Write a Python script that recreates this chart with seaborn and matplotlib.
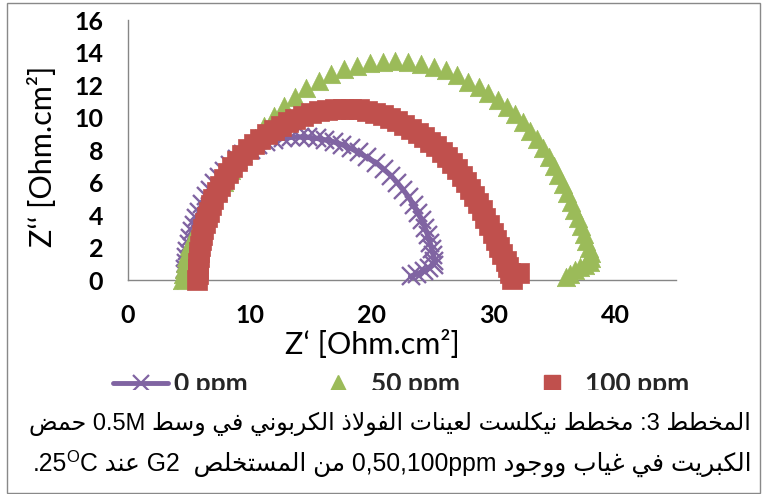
import matplotlib
matplotlib.use("Agg")
import matplotlib.pyplot as plt
from matplotlib.lines import Line2D
from matplotlib.patches import Rectangle
import seaborn as sns

# ---------------- data: Nyquist curves (Z', -Z'') in Ohm.cm2 ----------------
series_labels = ["0 ppm", "50 ppm", "100 ppm"]

z0_re = [4.75, 4.72, 4.72, 4.75, 4.80, 4.88, 4.98, 5.10, 5.25, 5.42, 5.62, 5.85,
         6.10, 6.40, 6.72, 7.08, 7.48, 7.92, 8.40, 8.92, 9.48, 10.08, 10.70, 11.35,
         12.00, 12.70, 13.40, 14.10, 14.80, 15.50, 16.20, 16.90, 17.60, 18.30, 18.95,
         19.60, 20.40, 21.00, 21.60, 22.10, 22.60, 23.05, 23.45, 23.80, 24.12, 24.40,
         24.62, 24.80, 24.95, 25.08, 25.15, 25.10, 24.75, 24.30, 23.75, 23.20]
z0_im = [0.00, 0.35, 0.70, 1.05, 1.40, 1.80, 2.20, 2.60, 3.00, 3.40, 3.80, 4.20,
         4.70, 5.15, 5.55, 5.95, 6.35, 6.72, 7.08, 7.42, 7.75, 8.02, 8.28, 8.48,
         8.62, 8.72, 8.78, 8.80, 8.78, 8.72, 8.62, 8.50, 8.33, 8.10, 7.85,
         7.55, 7.20, 6.82, 6.42, 6.00, 5.55, 5.10, 4.62, 4.15, 3.68, 3.20,
         2.75, 2.30, 1.90, 1.52, 1.20, 0.95, 0.75, 0.55, 0.38, 0.22]

z50_re = [4.45, 4.50, 4.57, 4.66, 4.77, 4.90, 5.05, 5.22, 5.42, 5.65, 5.90, 6.20,
          6.55, 6.95, 7.40, 7.90, 8.45, 9.05, 9.70, 10.40, 11.15, 11.95, 12.80, 13.70,
          14.65, 15.65, 16.70, 17.75, 18.80, 19.85, 20.90, 21.95, 23.00, 24.05, 25.10,
          26.10, 27.00, 27.90, 28.80, 29.60, 30.40, 31.10, 31.80, 32.45, 33.05, 33.60,
          34.10, 34.55, 34.95, 35.35, 35.70, 36.05, 36.35, 36.65, 36.95, 37.20, 37.45,
          37.65, 37.85, 38.00, 38.05, 37.95, 37.55, 37.10, 36.70, 36.30, 35.95]
z50_im = [0.00, 0.35, 0.70, 1.05, 1.40, 1.75, 2.10, 2.45, 2.80, 3.20, 3.60, 4.05,
          4.50, 5.00, 5.50, 6.05, 6.75, 7.45, 8.10, 8.75, 9.45, 10.10, 10.70, 11.25,
          11.80, 12.25, 12.65, 12.98, 13.20, 13.35, 13.43, 13.45, 13.40, 13.30, 13.12,
          12.90, 12.60, 12.20, 11.90, 11.50, 11.05, 10.65, 10.20, 9.70, 9.20, 8.65,
          8.10, 7.55, 7.00, 6.45, 5.90, 5.35, 4.80, 4.30, 3.80, 3.30, 2.85,
          2.40, 2.00, 1.65, 1.35, 1.10, 0.95, 0.80, 0.60, 0.40, 0.20]

z100_re = [5.70, 5.72, 5.75, 5.78, 5.82, 5.87, 5.93, 6.00, 6.08, 6.18, 6.30, 6.45,
           6.62, 6.80, 7.02, 7.27, 7.55, 7.85, 8.18, 8.55, 8.95, 9.40, 9.85, 10.35,
           10.85, 11.40, 11.95, 12.55, 13.15, 13.75, 14.40, 15.05, 15.70, 16.35, 17.00,
           17.65, 18.30, 18.95, 19.60, 20.25, 20.90, 21.50, 22.10, 22.70, 23.25, 23.80,
           24.30, 24.80, 25.30, 25.75, 26.20, 26.60, 27.00, 27.40, 27.75, 28.10, 28.45,
           28.75, 29.05, 29.35, 29.65, 29.95, 30.25, 30.50, 30.75, 31.00, 31.20, 31.40,
           31.55, 32.10]
z100_im = [0.00, 0.35, 0.70, 1.05, 1.40, 1.75, 2.10, 2.45, 2.80, 3.15, 3.50, 3.85,
           4.20, 4.60, 5.00, 5.40, 5.80, 6.20, 6.60, 6.95, 7.30, 7.70, 8.05, 8.40,
           8.70, 9.00, 9.25, 9.50, 9.72, 9.92, 10.10, 10.25, 10.37, 10.46, 10.52,
           10.55, 10.55, 10.50, 10.42, 10.30, 10.15, 9.98, 9.78, 9.55, 9.32, 9.07,
           8.80, 8.52, 8.22, 7.90, 7.55, 7.20, 6.82, 6.42, 6.02, 5.60, 5.16,
           4.72, 4.28, 3.83, 3.38, 2.92, 2.46, 2.02, 1.60, 1.18, 0.80, 0.42,
           0.08, 0.43]

x_ticks = [0, 10, 20, 30, 40]
y_ticks = [0, 2, 4, 6, 8, 10, 12, 14, 16]

caption_line1 = "المخطط 3: مخطط نيكلست لعينات الفولاذ الكربوني في وسط 0.5M حمض"
caption_line2 = "الكبريت في غياب ووجود 0,50,100ppm من المستخلص  G2 عند 25OC."

# ---------------- Arabic shaping + right-to-left ordering ----------------
FORMS = {
    'ا': ('\uFE8D', '\uFE8E', None, None), 'أ': ('\uFE83', '\uFE84', None, None),
    'إ': ('\uFE87', '\uFE88', None, None), 'آ': ('\uFE81', '\uFE82', None, None),
    'ب': ('\uFE8F', '\uFE90', '\uFE91', '\uFE92'), 'ة': ('\uFE93', '\uFE94', None, None),
    'ت': ('\uFE95', '\uFE96', '\uFE97', '\uFE98'), 'ث': ('\uFE99', '\uFE9A', '\uFE9B', '\uFE9C'),
    'ج': ('\uFE9D', '\uFE9E', '\uFE9F', '\uFEA0'), 'ح': ('\uFEA1', '\uFEA2', '\uFEA3', '\uFEA4'),
    'خ': ('\uFEA5', '\uFEA6', '\uFEA7', '\uFEA8'), 'د': ('\uFEA9', '\uFEAA', None, None),
    'ذ': ('\uFEAB', '\uFEAC', None, None), 'ر': ('\uFEAD', '\uFEAE', None, None),
    'ز': ('\uFEAF', '\uFEB0', None, None), 'س': ('\uFEB1', '\uFEB2', '\uFEB3', '\uFEB4'),
    'ش': ('\uFEB5', '\uFEB6', '\uFEB7', '\uFEB8'), 'ص': ('\uFEB9', '\uFEBA', '\uFEBB', '\uFEBC'),
    'ض': ('\uFEBD', '\uFEBE', '\uFEBF', '\uFEC0'), 'ط': ('\uFEC1', '\uFEC2', '\uFEC3', '\uFEC4'),
    'ظ': ('\uFEC5', '\uFEC6', '\uFEC7', '\uFEC8'), 'ع': ('\uFEC9', '\uFECA', '\uFECB', '\uFECC'),
    'غ': ('\uFECD', '\uFECE', '\uFECF', '\uFED0'), 'ف': ('\uFED1', '\uFED2', '\uFED3', '\uFED4'),
    'ق': ('\uFED5', '\uFED6', '\uFED7', '\uFED8'), 'ك': ('\uFED9', '\uFEDA', '\uFEDB', '\uFEDC'),
    'ل': ('\uFEDD', '\uFEDE', '\uFEDF', '\uFEE0'), 'م': ('\uFEE1', '\uFEE2', '\uFEE3', '\uFEE4'),
    'ن': ('\uFEE5', '\uFEE6', '\uFEE7', '\uFEE8'), 'ه': ('\uFEE9', '\uFEEA', '\uFEEB', '\uFEEC'),
    'و': ('\uFEED', '\uFEEE', None, None), 'ى': ('\uFEEF', '\uFEF0', None, None),
    'ي': ('\uFEF1', '\uFEF2', '\uFEF3', '\uFEF4'),
}
LAM_ALEF = {'ا': ('\uFEFB', '\uFEFC'), 'أ': ('\uFEF7', '\uFEF8'),
            'إ': ('\uFEF9', '\uFEFA'), 'آ': ('\uFEF5', '\uFEF6')}


def shape_arabic(s):
    out, i, n = [], 0, len(s)
    while i < n:
        c = s[i]
        if c not in FORMS:
            out.append(c)
            i += 1
            continue
        prev = s[i - 1] if i > 0 else ''
        joins_prev = prev in FORMS and FORMS[prev][2] is not None
        if c == 'ل' and i + 1 < n and s[i + 1] in LAM_ALEF:
            iso, fin = LAM_ALEF[s[i + 1]]
            out.append(fin if joins_prev else iso)
            i += 2
            continue
        nxt = s[i + 1] if i + 1 < n else ''
        iso, fin, ini, med = FORMS[c]
        joins_next = ini is not None and nxt in FORMS
        if joins_prev and joins_next:
            out.append(med)
        elif joins_prev:
            out.append(fin)
        elif joins_next:
            out.append(ini)
        else:
            out.append(iso)
        i += 1
    return ''.join(out)


def rtl_visual(s):
    shaped = shape_arabic(s)

    def kind(c):
        if '\u0600' <= c <= '\u06FF' or '\uFB50' <= c <= '\uFEFF':
            return 'R'
        if c.isascii() and c.isalnum():
            return 'L'
        return 'N'

    raw = [kind(c) for c in shaped]
    res = []
    for i, t in enumerate(raw):
        if t != 'N':
            res.append(t)
            continue
        j = i - 1
        while j >= 0 and raw[j] == 'N':
            j -= 1
        k = i + 1
        while k < len(raw) and raw[k] == 'N':
            k += 1
        before = raw[j] if j >= 0 else 'R'
        after = raw[k] if k < len(raw) else 'R'
        res.append('L' if before == 'L' and after == 'L' else 'R')
    runs = []
    for c, t in zip(shaped, res):
        if runs and runs[-1][0] == t:
            runs[-1][1].append(c)
        else:
            runs.append([t, [c]])
    parts = []
    for t, chars in reversed(runs):
        parts.append(''.join(reversed(chars)) if t == 'R' else ''.join(chars))
    return ''.join(parts)


# ---------------- figure ----------------
W, H = 764, 494
sns.set_theme(style="white")
plt.rcParams['font.family'] = ['Lato', 'DejaVu Sans']

fig = plt.figure(figsize=(W / 100, H / 100), dpi=100)
fig.patch.set_facecolor("white")


def fx(px):
    return px / W


def fy(py):
    return 1 - py / H


ax = fig.add_axes([fx(128), fy(280), fx(676) - fx(128), fy(20) - fy(280)])
ax.set_facecolor("white")

c_purple = "#8064A2"
c_green = "#9BBB59"
c_red = "#C0504D"

sns.lineplot(x=z0_re, y=z0_im, sort=False, estimator=None, ax=ax, color=c_purple,
             lw=3.8, marker='x', markersize=12.5, markeredgewidth=1.7,
             markeredgecolor=c_purple, clip_on=False, zorder=3)
sns.scatterplot(x=z50_re, y=z50_im, ax=ax, marker='^', s=175, color=c_green,
                edgecolor=c_green, linewidth=0.5, clip_on=False, zorder=4)
sns.scatterplot(x=z100_re, y=z100_im, ax=ax, marker='s', s=200, color=c_red,
                edgecolor=c_red, linewidth=0.5, clip_on=False, zorder=5)

ax.set_xlim(0, 45)
ax.set_ylim(0, 16)
ax.set_xticks(x_ticks)
ax.set_yticks(y_ticks)
ax.set_xlabel("")
ax.set_ylabel("")
for side in ("top", "right"):
    ax.spines[side].set_visible(False)
for side in ("left", "bottom"):
    ax.spines[side].set_color("#868686")
    ax.spines[side].set_linewidth(1.0)
ax.tick_params(axis='both', which='major', direction='out', length=6, width=1.0,
               color="#868686", labelcolor="black", labelsize=18)
ax.tick_params(axis='y', pad=12)
ax.tick_params(axis='x', pad=11)
for lab in ax.get_xticklabels() + ax.get_yticklabels():
    lab.set_fontweight('bold')
if ax.get_legend():
    ax.get_legend().remove()

# axis titles
fig.text(fx(372), fy(345), "Z\u2018 [Ohm.cm\u00b2]", ha='center', va='center',
         fontsize=22, color='black')
fig.text(fx(43), fy(156), "Z\u2018\u2018 [Ohm.cm\u00b2]", ha='center', va='center',
         rotation=90, fontsize=22, color='black')

# legend
handles = [
    Line2D([], [], color=c_purple, lw=3.5, marker='x', markersize=11,
           markeredgewidth=1.6),
    Line2D([], [], color=c_green, lw=0, marker='^', markersize=12),
    Line2D([], [], color=c_red, lw=0, marker='s', markersize=12),
]
leg = fig.legend(handles, series_labels, loc='center left',
                 bbox_to_anchor=(fx(113), fy(384)), ncol=3, frameon=False,
                 borderpad=0, borderaxespad=0, handlelength=2.1,
                 handletextpad=0.2, columnspacing=2.4,
                 prop={'family': 'Lato', 'weight': 'bold', 'size': 19})

# caption box (sits over the lower part of the legend)
fig.add_artist(Rectangle((fx(7), fy(492)), fx(759) - fx(7), fy(390) - fy(492),
                         transform=fig.transFigure, facecolor='white',
                         edgecolor='none', zorder=20))
# chart outline
fig.add_artist(Rectangle((fx(6.5), fy(492.5)), fx(759.5) - fx(6.5), fy(3) - fy(492.5),
                         transform=fig.transFigure, facecolor='none',
                         edgecolor='#898989', lw=1.0, zorder=21))

cap_font = dict(family=['Liberation Sans', 'DejaVu Sans'], size=17, color='black')
x_right = fx(751)

fig.text(x_right, fy(430), rtl_visual(caption_line1), ha='right', va='baseline',
         zorder=22, **cap_font)

line2_font = dict(cap_font)
line2_font['size'] = 17.8
v2 = rtl_visual(caption_line2)
cut = v2.index('O')
renderer = fig.canvas.get_renderer()
t_right = fig.text(x_right, fy(471), v2[cut + 1:], ha='right', va='baseline',
                   zorder=22, **line2_font)
w = t_right.get_window_extent(renderer).width / W
sup_font = dict(line2_font)
sup_font['size'] = 12
t_sup = fig.text(x_right - w, fy(462), v2[cut], ha='right', va='baseline',
                 zorder=22, **sup_font)
w2 = t_sup.get_window_extent(renderer).width / W
fig.text(x_right - w - w2, fy(471), v2[:cut], ha='right', va='baseline',
         zorder=22, **line2_font)

fig.savefig("out.png", dpi=100)
